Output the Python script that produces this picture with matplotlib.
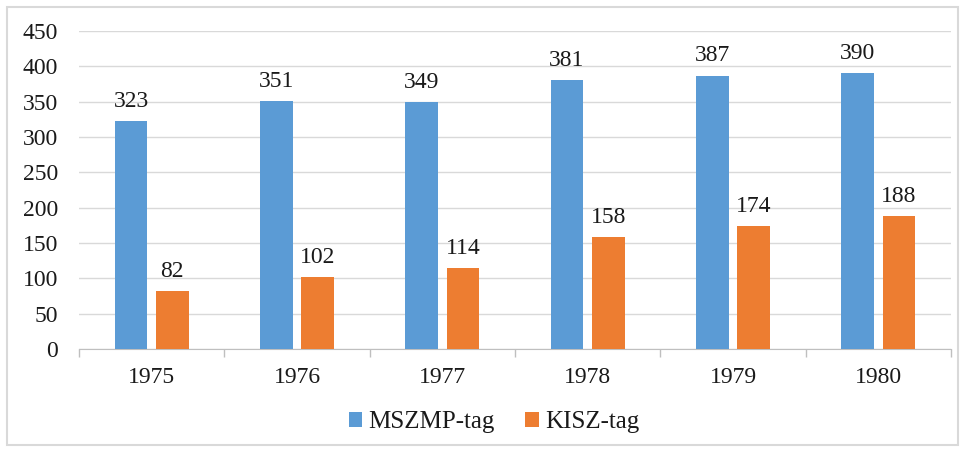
import matplotlib
matplotlib.use("Agg")
import matplotlib.pyplot as plt
import numpy as np
from matplotlib.patches import Rectangle

years = ["1975", "1976", "1977", "1978", "1979", "1980"]
mszmp = [323, 351, 349, 381, 387, 390]
kisz = [82, 102, 114, 158, 174, 188]
series_names = ["MSZMP-tag", "KISZ-tag"]

plt.rcParams['font.family'] = ['Liberation Serif', 'DejaVu Serif']

fig = plt.figure(figsize=(9.65, 4.51), dpi=100)
W, H = 965, 451
ax = fig.add_axes([79 / W, 1 - 349 / H, (951 - 79) / W, (349 - 31) / H])

x = np.arange(len(years))
bw = 0.225
off = 0.142
b1 = ax.bar(x - off, mszmp, bw, color='#5B9BD5', label=series_names[0], zorder=3)
b2 = ax.bar(x + off, kisz, bw, color='#ED7D31', label=series_names[1], zorder=3)
for bars, vals in ((b1, mszmp), (b2, kisz)):
    for r, v in zip(bars, vals):
        ax.text(r.get_x() + r.get_width() / 2, v + 13, str(v), ha='center', va='bottom',
                fontsize=17, color='#1a1a1a')

ax.set_xlim(-0.5, len(years) - 0.5)
ax.set_ylim(0, 450)
ax.set_yticks(range(0, 451, 50))
ax.tick_params(axis='y', length=0, labelsize=17, pad=15, labelcolor='#1a1a1a')
ax.set_xticks(x)
ax.set_xticklabels(years)
ax.tick_params(axis='x', length=0, labelsize=17, pad=13, labelcolor='#1a1a1a')
ax.set_xticks(np.arange(-0.5, len(years), 1), minor=True)
ax.tick_params(axis='x', which='minor', length=6, color='#BFBFBF', width=1)
ax.grid(axis='y', color='#D9D9D9', linewidth=1, zorder=0)
for s in ['top', 'right', 'left']:
    ax.spines[s].set_visible(False)
ax.spines['bottom'].set_color('#BFBFBF')

fig.legend(handles=[b1, b2], labels=series_names, loc='center', bbox_to_anchor=(494 / W, 1 - 422 / H),
           ncol=2, frameon=False, fontsize=18, handlelength=0.55, handleheight=0.55,
           handletextpad=0.25, columnspacing=1.2, labelcolor='#1a1a1a')

fig.patches.append(Rectangle((7 / W, 6 / H), (958 - 7) / W, (444 - 6) / H, transform=fig.transFigure,
                             fill=False, edgecolor='#D9D9D9', linewidth=1.5))

fig.savefig('out.png', dpi=100)
